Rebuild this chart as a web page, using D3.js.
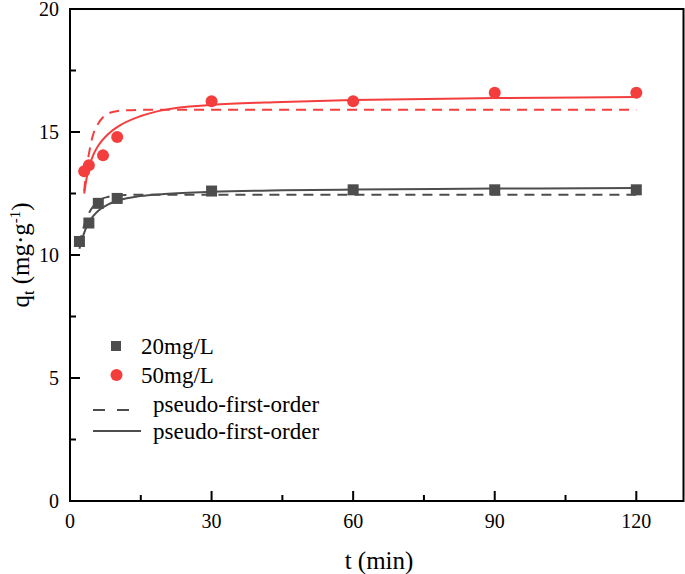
<!DOCTYPE html>
<html><head><meta charset="utf-8">
<script src="https://cdn.jsdelivr.net/npm/d3@7"></script>
<style>body{margin:0;background:#fff}svg{display:block}</style>
</head><body><svg id="c" width="685" height="574"></svg>
<script>
const xTicks=[0,30,60,90,120];
const yTicks=[0,5,10,15,20];
const t20=[2,4,6,10,30,60,90,120];
const q20=[10.55,11.3,12.1,12.3,12.6,12.65,12.65,12.65];
const t50=[3,4,7,10,30,60,90,120];
const q50=[13.4,13.65,14.05,14.8,16.25,16.25,16.6,16.6];
// fitted curves
const tFit20D=[2,2.5,3,3.5,4,5,6,7,8,10,12,15,30,60,90,120];
const qFit20D=[10.4,10.85,11.2,11.5,11.7,12.0,12.18,12.3,12.36,12.42,12.44,12.45,12.45,12.45,12.45,12.45];
const tFit20S=[2,2.5,3,4,5,6,8,10,15,20,30,45,60,90,120];
const qFit20S=[10.25,10.6,10.9,11.35,11.6,11.8,12.05,12.2,12.4,12.48,12.57,12.63,12.66,12.7,12.72];
const tFit50D=[3,3.5,4,4.5,5,6,7,8,10,12,15,30,60,90,120];
const qFit50D=[12.6,13.5,14.1,14.6,14.95,15.35,15.6,15.74,15.85,15.88,15.9,15.9,15.9,15.9,15.9];
const tFit50S=[3,3.5,4,5,6,8,10,15,20,30,45,60,90,120];
const qFit50S=[12.5,13.1,13.55,14.1,14.45,14.9,15.2,15.65,15.9,16.1,16.22,16.3,16.38,16.42];
const gray="#4d4d4d", red="#f43e3e";
const FF="Liberation Serif";

const svg=d3.select("#c");
const x=d3.scaleLinear().domain([0,130]).range([70,683.5]);
const y=d3.scaleLinear().domain([0,20]).range([501,9]);

svg.append("rect").attr("x",70).attr("y",9).attr("width",613.5).attr("height",492)
  .attr("fill","none").attr("stroke","#000").attr("stroke-width",2);

const xMinor=d3.range(15,130,30);
const xa=svg.append("g");
xTicks.forEach(v=>{xa.append("line").attr("x1",x(v)).attr("x2",x(v)).attr("y1",501).attr("y2",491).attr("stroke","#000").attr("stroke-width",2);
 xa.append("text").style("font-family",FF).attr("x",x(v)).attr("y",528).attr("text-anchor","middle").attr("font-size",20).text(v);});
xMinor.forEach(v=>xa.append("line").attr("x1",x(v)).attr("x2",x(v)).attr("y1",501).attr("y2",495).attr("stroke","#000").attr("stroke-width",2));
const yMinor=[2.5,7.5,12.5,17.5];
yTicks.forEach(v=>{xa.append("line").attr("x1",70).attr("x2",80).attr("y1",y(v)).attr("y2",y(v)).attr("stroke","#000").attr("stroke-width",2);
 xa.append("text").style("font-family",FF).attr("x",59).attr("y",y(v)+6.5).attr("text-anchor","end").attr("font-size",20).text(v);});
yMinor.forEach(v=>xa.append("line").attr("x1",70).attr("x2",76).attr("y1",y(v)).attr("y2",y(v)).attr("stroke","#000").attr("stroke-width",2));

svg.append("text").style("font-family",FF).attr("x",379).attr("y",569).attr("text-anchor","middle").attr("font-size",25).text("t (min)");
const yt=svg.append("text").style("font-family",FF).attr("transform","translate(29,255) rotate(-90)").attr("text-anchor","middle").attr("font-size",25);
yt.append("tspan").text("q");
yt.append("tspan").attr("font-size",16).attr("dy",5).text("t");
yt.append("tspan").attr("dy",-5).text(" (mg·g");
yt.append("tspan").attr("font-size",15).attr("dy",-9).text("-1");
yt.append("tspan").attr("dy",9).text(")");

const line=d3.line().x(d=>x(d[0])).y(d=>y(d[1])).curve(d3.curveMonotoneX);
function drawLine(ts,qs,col,dash){
 svg.append("path").datum(ts.map((t,i)=>[t,qs[i]])).attr("d",line).attr("fill","none")
  .attr("stroke",col).attr("stroke-width",2).attr("stroke-dasharray",dash?"10,7":null);
}
drawLine(tFit20D,qFit20D,gray,true);
drawLine(tFit20S,qFit20S,gray,false);
drawLine(tFit50D,qFit50D,red,true);
drawLine(tFit50S,qFit50S,red,false);

svg.append("g").selectAll("rect").data(t20.map((t,i)=>[t,q20[i]])).join("rect")
 .attr("x",d=>x(d[0])-5.5).attr("y",d=>y(d[1])-5.5).attr("width",11).attr("height",11).attr("fill",gray);
svg.append("g").selectAll("circle").data(t50.map((t,i)=>[t,q50[i]])).join("circle")
 .attr("cx",d=>x(d[0])).attr("cy",d=>y(d[1])).attr("r",6).attr("fill",red);

const lg=svg.append("g");
lg.append("rect").attr("x",111).attr("y",341).attr("width",10).attr("height",10).attr("fill",gray);
lg.append("text").style("font-family",FF).attr("x",141).attr("y",354).attr("font-size",23).text("20mg/L");
lg.append("circle").attr("cx",116.5).attr("cy",375).attr("r",6).attr("fill",red);
lg.append("text").style("font-family",FF).attr("x",141).attr("y",383).attr("font-size",23).text("50mg/L");
lg.append("line").attr("x1",93).attr("x2",131).attr("y1",410).attr("y2",410).attr("stroke",gray).attr("stroke-width",2).attr("stroke-dasharray","12,12");
lg.append("text").style("font-family",FF).attr("x",153).attr("y",412).attr("font-size",23).text("pseudo-first-order");
lg.append("line").attr("x1",93).attr("x2",141).attr("y1",431).attr("y2",431).attr("stroke",gray).attr("stroke-width",2);
lg.append("text").style("font-family",FF).attr("x",153).attr("y",439).attr("font-size",23).text("pseudo-first-order");
</script></body></html>
